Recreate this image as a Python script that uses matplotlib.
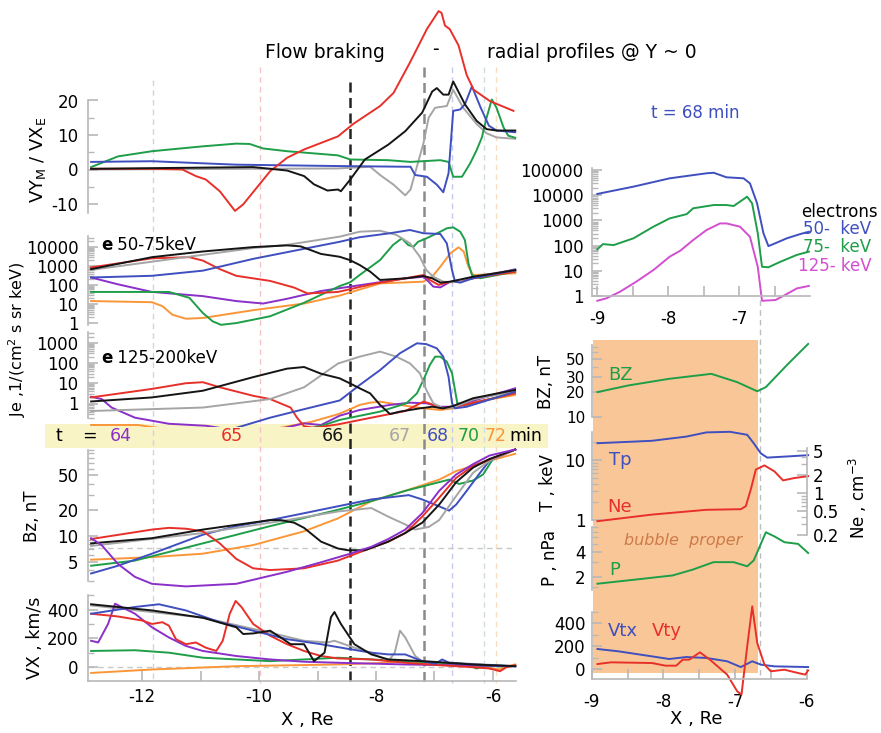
import numpy as np
import matplotlib
matplotlib.use('Agg')
import matplotlib.pyplot as plt
from matplotlib.ticker import FixedLocator, NullFormatter, FixedFormatter
from matplotlib.lines import Line2D
import matplotlib.transforms as mtrans

plt.rcParams['font.family'] = ['DejaVu Sans']
plt.rcParams['font.size'] = 12
plt.rcParams['mathtext.fontset'] = 'dejavusans'

# ------------------------------------------------------------------ data
# left column: radial profiles at several times (X in Re)
vy_red_x = [-12.87,-11.83,-11.31,-11.08,-10.91,-10.67,-10.41,-10.27,-10.04,-9.81,-9.52,-9.23,-8.65,-8.39,-7.93,-7.7,-7.42,-7.13,-6.93,-6.88,-6.82,-6.74,-6.59,-6.45,-6.33,-6.05,-5.65]
vy_red_y = [0.2,0.2,0,-1.9,-2.9,-6.3,-12,-10.1,-5.3,-0.5,3.4,5.8,9.6,13.2,18.4,22.2,31,40.7,45.9,45.4,41.7,40.7,36,27.4,23.1,19.8,17]
vy_blk_x = [-12.87,-10.1,-9.52,-9.23,-9.06,-8.83,-8.65,-8.6,-8.44,-8.19,-7.79,-7.5,-7.21,-7.04,-6.96,-6.85,-6.76,-6.68,-6.48,-6.28,-6.11,-5.94,-5.62]
vy_blk_y = [0.2,0.7,-0.3,-1.9,-4.3,-6.1,-5.8,-6.3,-2.9,2.9,7.2,11.1,16.5,22.6,23.6,21.7,21.7,25.5,18.9,14.1,11.7,11.3,11.3]
vy_gry_x = [-12.87,-8.65,-8.1,-7.93,-7.7,-7.5,-7.41,-7.27,-7.19,-7.1,-6.99,-6.79,-6.68,-6.51,-6.28,-6.11,-5.94,-5.62]
vy_gry_y = [0,0.3,0.8,-1.6,-4.4,-7.5,-5.8,2.7,7.5,15,17.9,18.4,23.1,17.9,13.2,10.5,9.3,8.9]
vy_blu_x = [-12.87,-11.83,-10.39,-8.65,-7.5,-7.41,-7.33,-7.13,-6.96,-6.85,-6.76,-6.68,-6.56,-6.48,-6.36,-6.21,-6.07,-5.94,-5.62]
vy_blu_y = [2.2,2.4,1.4,1.0,0.8,0.8,-1.6,-2.1,-4.4,-6.6,-1.1,17,17.4,18.9,24.1,17.9,12.7,11.3,10.8]
vy_grn_x = [-12.87,-12.41,-11.83,-10.97,-10.39,-10.16,-9.93,-9.52,-8.65,-8.44,-7.79,-7.41,-6.9,-6.76,-6.68,-6.53,-6.39,-6.28,-6.19,-6.11,-6.02,-5.94,-5.82,-5.74,-5.62]
vy_grn_y = [0.7,3.8,5.3,6.7,7.5,7.4,6.1,5.3,4.1,2.9,2.7,2.2,2.7,2.2,-2.1,-2.1,1.8,5.6,9.3,15,20.3,17.9,12.2,9.8,9.2]

# electron flux 50-75 keV (log10 of Je)
je50_blk_x = [-12.87,-11.83,-10.96,-10.1,-9.52,-9.29,-8.94,-8.62,-8.45,-8.28,-8.1,-7.93,-7.48,-7.19,-7.04,-6.9,-6.73,-6.34,-5.62]
je50_blk_lg = [2.84,3.47,3.77,4.0,4.09,4.04,3.64,3.49,3.32,3.06,2.71,2.27,2.36,2.48,2.36,2.13,2.18,2.44,2.79]
je50_gry_x = [-12.87,-10.1,-9.52,-8.62,-8.28,-7.93,-7.65,-7.42,-7.25,-7.14,-7.02,-6.85,-6.68,-6.34,-5.62]
je50_gry_lg = [2.8,3.95,4.12,4.55,4.81,4.86,4.64,4.2,3.49,2.79,2.44,2.18,2.15,2.44,2.79]
je50_blu_x = [-12.87,-11.83,-10.96,-10.1,-9.23,-8.62,-8.28,-7.76,-7.42,-7.19,-6.9,-6.79,-6.7,-6.65,-6.56,-6.34,-5.62]
je50_blu_lg = [2.4,2.49,2.76,3.38,3.91,4.28,4.52,4.73,4.9,4.73,4.69,4.2,2.79,2.18,2.13,2.36,2.79]
je50_red_x = [-12.87,-11.83,-11.19,-10.96,-10.67,-10.39,-9.81,-9.4,-9.17,-8.65,-8.08,-7.19,-7.08,-6.93,-6.79,-6.34,-5.62]
je50_red_lg = [2.93,3.41,3.47,3.29,2.84,2.49,2.22,1.87,1.56,1.64,2.04,2.53,2.27,2.01,2.13,2.36,2.71]
je50_pur_x = [-12.87,-12.41,-11.83,-10.96,-10.39,-9.93,-9.52,-8.94,-8.44,-7.48,-7.19,-7.1,-7.02,-6.9,-6.73,-6.34,-5.62]
je50_pur_lg = [2.4,2.04,1.64,1.42,1.16,1.03,1.28,1.69,1.92,2.36,2.44,2.18,1.92,1.88,2.18,2.36,2.83]
je50_grn_x = [-12.87,-11.54,-11.19,-10.96,-10.79,-10.65,-10.39,-9.81,-9.23,-8.62,-8.44,-8.28,-7.93,-7.71,-7.56,-7.45,-7.36,-7.28,-7.14,-6.9,-6.79,-6.68,-6.56,-6.48,-6.42,-6.36,-6.22,-5.62]
je50_grn_lg = [1.64,1.64,1.33,0.53,0.09,-0.09,0,0.36,1.07,1.95,2.15,2.53,3.32,4.11,4.46,4.11,4.02,4.28,4.46,4.81,4.99,5.04,4.81,4.37,3.15,2.53,2.36,2.71]
je50_org_x = [-12.87,-11.83,-11.65,-11.48,-11.25,-10.96,-10.1,-9.23,-8.62,-7.93,-7.19,-7.04,-6.9,-6.73,-6.59,-6.5,-6.42,-6.34,-5.62]
je50_org_lg = [1.16,1.1,0.89,0.44,0.23,0.27,0.68,1.03,1.45,2.09,2.18,2.44,2.97,3.67,3.99,3.76,2.97,2.53,2.62]

# electron flux 125-200 keV (log10 of Je)
je125_blk_x = [-12.87,-11.83,-10.96,-10.1,-9.52,-9.23,-8.94,-8.62,-8.45,-8.28,-8.1,-7.93,-7.76,-7.59,-7.25,-7.04,-6.85,-6.68,-6.34,-5.62]
je125_blk_lg = [0.1,0.3,0.63,1.3,1.72,1.8,1.47,1.24,1.0,0.75,0.5,-0.07,-0.52,-0.4,-0.24,-0.16,-0.24,-0.12,0.26,0.67]
je125_gry_x = [-12.87,-10.96,-9.81,-9.23,-8.65,-8.28,-7.93,-7.65,-7.42,-7.25,-7.14,-7.02,-6.85,-6.68,-6.34,-5.62]
je125_gry_lg = [-0.37,-0.2,0.22,0.8,1.97,2.31,2.56,2.31,1.98,1.49,0.67,0.01,-0.24,-0.2,0.2,0.6]
je125_blu_x = [-10.9,-10.39,-9.81,-9.23,-8.62,-8.28,-7.93,-7.59,-7.3,-7.14,-6.96,-6.85,-6.76,-6.7,-6.65,-6.45,-5.62]
je125_blu_lg = [-1.4,-1.2,-0.7,-0.28,0.15,0.91,1.65,2.48,2.97,2.93,2.72,2.31,1.32,0.01,-0.24,-0.16,0.58]
je125_red_x = [-12.87,-11.83,-11.25,-10.96,-10.67,-10.1,-9.81,-9.46,-9.35,-9.23,-9.06,-8.65,-8.08,-7.5,-7.19,-7.08,-6.9,-6.68,-5.62]
je125_red_lg = [0.3,0.72,1.0,1.05,0.8,0.38,0.22,-0.2,-0.7,-1.12,-1.2,-1.03,-0.7,-0.37,0.09,0.0,-0.24,-0.2,0.5]
je125_pur_x = [-12.87,-12.69,-12.52,-12.12,-11.54,-10.9,-10.0,-9.23,-8.94,-8.62,-8.28,-7.76,-7.42,-7.14,-6.9,-6.68,-5.62]
je125_pur_lg = [0.33,0.22,-0.2,-0.7,-1.0,-1.1,-1.5,-0.98,-1.06,-0.6,-0.32,-0.07,0.04,0.01,-0.16,-0.16,0.75]
je125_grn_x = [-9.5,-8.89,-8.62,-7.93,-7.48,-7.3,-7.19,-7.08,-6.99,-6.9,-6.79,-6.7,-6.65,-6.61,-6.45,-5.62]
je125_grn_lg = [-1.5,-1.06,-0.81,-0.4,0.01,0.5,1.16,1.9,2.31,2.31,2.06,1.49,0.67,0.01,-0.07,0.53]
je125_org_x = [-12.87,-12.07,-11.5,-10.0,-9.1,-8.65,-8.44,-8.28,-8.1,-7.93,-7.59,-7.19,-6.9,-6.68,-6.45,-5.62]
je125_org_lg = [-1.06,-1.06,-1.3,-1.4,-0.9,-0.53,-0.28,-0.07,0.04,0.09,-0.07,-0.24,-0.32,-0.24,0.01,0.42]

# Bz (log10 of nT)
bz_pur_x = [-12.87,-12.69,-12.41,-12.12,-11.83,-11.25,-10.39,-9.52,-8.94,-8.44,-8.08,-7.79,-7.5,-7.21,-6.92,-6.63,-6.34,-6.06,-5.62]
bz_pur_lg = [0.97,0.89,0.67,0.52,0.44,0.41,0.44,0.58,0.69,0.79,0.87,0.96,1.07,1.26,1.52,1.71,1.83,1.93,2.0]
bz_blk_x = [-12.87,-11.83,-10.96,-9.81,-9.63,-9.4,-9.23,-8.94,-8.65,-8.48,-8.19,-7.79,-7.5,-7.21,-6.92,-6.63,-6.34,-6.06,-5.62]
bz_blk_lg = [0.91,0.97,1.07,1.18,1.18,1.15,1.09,0.93,0.85,0.83,0.83,0.93,1.03,1.15,1.36,1.62,1.79,1.89,2.0]
bz_gry_x = [-12.87,-10.96,-9.52,-8.65,-8.08,-7.79,-7.5,-7.33,-7.1,-6.92,-6.63,-6.34,-6.06,-5.62]
bz_gry_lg = [0.88,1.03,1.18,1.28,1.32,1.22,1.13,1.07,1.1,1.18,1.46,1.73,1.87,2.0]
bz_red_x = [-12.87,-11.83,-11.54,-11.25,-10.96,-10.67,-10.39,-10.1,-9.81,-9.23,-8.65,-8.19,-7.79,-7.5,-7.21,-6.92,-6.63,-6.34,-5.62]
bz_red_lg = [0.96,1.07,1.09,1.08,1.05,0.91,0.73,0.62,0.6,0.62,0.71,0.83,0.93,1.03,1.22,1.44,1.67,1.81,2.0]
bz_blu_x = [-12.87,-12.41,-11.83,-10.96,-10.39,-9.81,-9.23,-8.44,-8.08,-7.44,-7.21,-6.92,-6.75,-6.63,-6.45,-6.22,-6.06,-5.62]
bz_blu_lg = [0.56,0.65,0.79,1.01,1.11,1.18,1.26,1.37,1.42,1.47,1.42,1.34,1.29,1.36,1.52,1.73,1.87,2.0]
bz_grn_x = [-12.87,-12.12,-10.96,-9.81,-8.65,-8.08,-7.5,-7.04,-6.75,-6.58,-6.34,-6.17,-6.0,-5.62]
bz_grn_lg = [0.65,0.71,0.91,1.11,1.3,1.4,1.52,1.6,1.65,1.6,1.64,1.71,1.89,2.0]
bz_org_x = [-12.87,-11.83,-10.96,-10.1,-9.23,-8.65,-8.08,-7.5,-6.92,-6.63,-6.34,-6.06,-5.62]
bz_org_lg = [0.72,0.75,0.79,0.89,1.05,1.2,1.4,1.52,1.65,1.75,1.81,1.87,1.95]
bz_ref = 7.2

# VX (km/s)
vx_blk_x = [-12.87,-11.83,-10.96,-10.39,-10.27,-10.1,-9.81,-9.63,-9.46,-9.23,-9.06,-8.88,-8.77,-8.71,-8.6,-8.37,-8.08,-7.79,-7.21,-6.34,-5.62]
vx_blk_y = [438,395,344,278,231,235,254,207,160,160,42,101,348,384,301,160,89,54,42,19,7]
vx_blu_x = [-12.87,-12.12,-11.71,-11.25,-10.67,-10.1,-9.52,-8.94,-8.44,-8.08,-7.79,-7.5,-7.21,-6.98,-6.87,-6.75,-6.34,-5.62]
vx_blu_y = [372,419,438,395,313,254,195,160,125,101,89,89,42,24,54,31,19,7]
vx_gry_x = [-12.87,-10.96,-9.81,-9.23,-8.83,-8.71,-8.37,-8.08,-7.79,-7.68,-7.59,-7.5,-7.33,-7.21,-5.62]
vx_gry_y = [430,345,240,184,172,184,136,101,42,101,254,207,78,42,7]
vx_red_x = [-12.87,-12.41,-12.0,-11.83,-11.65,-11.54,-11.42,-11.25,-11.08,-10.91,-10.73,-10.62,-10.5,-10.4,-10.3,-10.1,-9.81,-9.52,-9.23,-8.94,-8.65,-8.08,-7.5,-6.92,-6.34,-6.06,-5.88,-5.77,-5.62]
vx_red_y = [372,353,325,301,313,289,195,160,172,136,113,184,372,461,419,301,219,160,113,78,61,54,31,14,0,-9,-28,0,14]
vx_pur_x = [-12.87,-12.75,-12.58,-12.46,-12.35,-12.12,-11.83,-11.54,-11.25,-10.96,-10.39,-9.81,-9.23,-8.65,-7.5,-5.62]
vx_pur_y = [184,172,301,442,419,372,278,207,148,113,78,54,38,31,19,7]
vx_grn_x = [-12.87,-12.12,-11.54,-10.96,-10.39,-9.81,-9.23,-8.65,-8.08,-7.5,-6.92,-6.46,-6.28,-6.17,-5.62]
vx_grn_y = [113,118,101,66,54,42,54,66,54,42,31,19,-9,7,7]
vx_org_x = [-12.87,-11.83,-10.39,-8.65,-7.79,-7.5,-6.92,-6.34,-5.88,-5.77,-5.62]
vx_org_y = [-40,-16,7,19,31,47,19,7,-16,7,19]

# time markers (X of flow front at each time) and the time labels
mark_x = [-11.81, -9.98, -8.44, -7.18, -6.70, -6.15, -5.95]
time_labels = ['64', '65', '66', '67', '68', '70', '72']

# right column, t = 68 min
e50_x = [-9,-8.49,-7.98,-7.46,-7.36,-7.18,-6.94,-6.85,-6.75,-6.66,-6.59,-6.52,-6.33,-6.14,-6.02]
e50_lg = [4.05,4.34,4.67,4.87,4.89,4.71,4.67,4.47,3.68,2.49,1.98,2.06,2.29,2.46,2.55]
e75_x = [-9,-8.92,-8.77,-8.49,-8.21,-7.98,-7.74,-7.65,-7.36,-7.18,-7.08,-6.89,-6.82,-6.74,-6.68,-6.59,-6.42,-6.19,-6.02]
e75_lg = [1.85,2.06,2.02,2.29,2.75,3.08,3.25,3.48,3.61,3.61,3.57,3.94,3.68,2.49,1.16,1.14,1.36,1.63,1.76]
e125_x = [-9,-8.87,-8.68,-8.45,-8.21,-7.98,-7.83,-7.65,-7.46,-7.27,-7.18,-6.99,-6.85,-6.74,-6.68,-6.49,-6.33,-6.19,-6.02]
e125_lg = [-0.19,-0.09,0.17,0.57,1.03,1.56,1.8,2.22,2.62,2.88,2.88,2.75,2.35,1.16,-0.19,-0.16,0.08,0.3,0.4]

rbz_x = [-8.92,-8.49,-7.92,-7.33,-6.97,-6.69,-6.57,-6.26,-5.98]
rbz_lg = [1.30,1.38,1.46,1.52,1.42,1.31,1.36,1.64,1.88]
tp_x = [-8.92,-8.16,-7.68,-7.4,-7.07,-6.83,-6.74,-6.64,-6.55,-6.26,-5.98]
tp_lg = [1.28,1.32,1.39,1.46,1.47,1.42,1.28,1.11,1.04,1.06,1.08]
ne_x = [-8.92,-8.16,-7.4,-6.92,-6.85,-6.78,-6.71,-6.59,-6.45,-6.33,-6.17,-5.98]
ne_lg = [-0.47,-0.36,-0.28,-0.27,-0.22,0.06,0.39,0.46,0.36,0.21,0.25,0.28]
p_x = [-8.92,-8.39,-7.87,-7.59,-7.3,-7.02,-6.83,-6.74,-6.64,-6.57,-6.45,-6.31,-6.12,-5.98]
p_lg = [0.22,0.27,0.32,0.39,0.48,0.48,0.43,0.50,0.70,0.84,0.79,0.72,0.70,0.59]
vtx_x = [-8.92,-8.63,-8.16,-7.92,-7.68,-7.4,-7.11,-6.92,-6.76,-6.64,-6.45,-5.98]
vtx_y = [174,154,110,87,104,96,67,17,67,38,23,17]
vty_x = [-8.92,-8.73,-8.16,-7.97,-7.82,-7.73,-7.64,-7.49,-7.35,-7.11,-6.97,-6.91,-6.83,-6.76,-6.69,-6.59,-6.5,-6.31,-6.12,-6.02,-5.98]
vty_y = [43,58,52,29,29,81,81,145,81,-49,-194,-223,197,545,226,38,-20,-6,-35,-49,-12]
bubble_edge = -6.68

# ------------------------------------------------------------------ style
C_RED = '#e8302a'; C_BLK = '#151515'; C_GRY = '#a5a5a5'; C_BLU = '#3f4fbf'
C_GRN = '#1e9e48'; C_PUR = '#8b2fc9'; C_ORG = '#fb9638'; C_MAG = '#d24fd0'
TICKC = '#b8b8b8'
LW = 1.4

W, H = 881, 733
fig = plt.figure(figsize=(W / 100, H / 100), dpi=100)


def px_axes(x0, x1, ytop, ybot, z=1):
    ax = fig.add_axes([x0 / W, 1 - ybot / H, (x1 - x0) / W, (ybot - ytop) / H])
    ax.patch.set_alpha(0)
    ax.set_zorder(z)
    for s in ax.spines.values():
        s.set_visible(False)
    ax.set_xticks([])
    ax.set_yticks([])
    return ax


def ftext(x, y, s, **kw):
    kw.setdefault('ha', 'center')
    kw.setdefault('va', 'center')
    return fig.text(x / W, 1 - y / H, s, **kw)


def yaxis_style(ax, bounds, major, labels, minor, side='left', pad=7, size=12):
    sp = ax.spines[side]
    sp.set_visible(True)
    sp.set_color(TICKC)
    sp.set_linewidth(1.2)
    sp.set_bounds(*bounds)
    if side == 'right':
        ax.yaxis.tick_right()
    ax.yaxis.set_major_locator(FixedLocator(major))
    ax.yaxis.set_major_formatter(FixedFormatter(labels))
    ax.yaxis.set_minor_locator(FixedLocator(minor))
    ax.yaxis.set_minor_formatter(NullFormatter())
    ax.tick_params(axis='y', which='major', direction='in', length=7, width=1.2,
                   color=TICKC, pad=pad, labelsize=size)
    ax.tick_params(axis='y', which='minor', direction='in', length=4, width=1.0,
                   color=TICKC)


def xaxis_style(ax, major, labels, minor, pad=5):
    sp = ax.spines['bottom']
    sp.set_visible(True)
    sp.set_color(TICKC)
    sp.set_linewidth(1.2)
    ax.xaxis.set_major_locator(FixedLocator(major))
    ax.xaxis.set_major_formatter(FixedFormatter(labels))
    ax.xaxis.set_minor_locator(FixedLocator(minor))
    ax.xaxis.set_minor_formatter(NullFormatter())
    ax.tick_params(axis='x', which='both', direction='in', length=7, width=1.2,
                   color=TICKC, pad=pad, labelsize=12)


def log_minors(lo, hi):
    return [m * 10.0 ** d for d in range(lo, hi) for m in range(2, 10)]


def pl(ax, x, y, c, clip=False, lw=LW, log=False):
    yy = 10 ** np.asarray(y) if log else np.asarray(y)
    ax.plot(x, yy, color=c, lw=lw, clip_on=clip, solid_joinstyle='round')


# ------------------------------------------------------------------ left column
LX_L, LX_R = 88.3, 516.0


def lx(px):
    return -12 + (px - 142) / 58.5


LXLIM = (lx(LX_L), lx(LX_R))

# yellow time band
band = px_axes(45, 548, 424, 448, z=0)
band.patch.set_alpha(1)
band.patch.set_facecolor('#f8f4c5')

# VY panel
ax1 = px_axes(LX_L, LX_R, 5, 215)
ax1.set_xlim(*LXLIM)
ax1.set_ylim((169.5 - 215) / 3.45, (169.5 - 5) / 3.45)
yaxis_style(ax1, (-12.5, 20), [-10, 0, 10, 20], ['-10', '0', '10', '20'], [-5, 5, 15])
for x, y, c in [(vy_gry_x, vy_gry_y, C_GRY), (vy_grn_x, vy_grn_y, C_GRN), (vy_blu_x, vy_blu_y, C_BLU),
                (vy_red_x, vy_red_y, C_RED), (vy_blk_x, vy_blk_y, C_BLK)]:
    pl(ax1, x, y, c)

# Je 50-75 keV
ax2 = px_axes(LX_L, LX_R, 220, 330)
ax2.set_yscale('log')
ax2.set_xlim(*LXLIM)
ax2.set_ylim(10 ** ((323.1 - 330) / 19), 10 ** ((323.1 - 220) / 19))
yaxis_style(ax2, (0.8, 3.8e4), [1, 10, 100, 1000, 10000], ['1', '10', '100', '1000', '10000'],
            [v for v in log_minors(0, 5) if v < 3.8e4])
for x, y, c in [(je50_org_x, je50_org_lg, C_ORG), (je50_pur_x, je50_pur_lg, C_PUR),
                (je50_grn_x, je50_grn_lg, C_GRN), (je50_red_x, je50_red_lg, C_RED),
                (je50_gry_x, je50_gry_lg, C_GRY), (je50_blu_x, je50_blu_lg, C_BLU),
                (je50_blk_x, je50_blk_lg, C_BLK)]:
    pl(ax2, x, y, c, log=True)

# Je 125-200 keV
ax3 = px_axes(LX_L, LX_R, 330, 427)
ax3.set_yscale('log')
ax3.set_xlim(*LXLIM)
ax3.set_ylim(10 ** ((403.5 - 427) / 20.27), 10 ** ((403.5 - 330) / 20.27))
yaxis_style(ax3, (0.2, 3500), [1, 10, 100, 1000], ['1', '10', '100', '1000'],
            [v for v in log_minors(-1, 4) if 0.2 <= v < 3500])
for x, y, c in [(je125_org_x, je125_org_lg, C_ORG), (je125_pur_x, je125_pur_lg, C_PUR),
                (je125_grn_x, je125_grn_lg, C_GRN), (je125_red_x, je125_red_lg, C_RED),
                (je125_gry_x, je125_gry_lg, C_GRY), (je125_blu_x, je125_blu_lg, C_BLU),
                (je125_blk_x, je125_blk_lg, C_BLK)]:
    pl(ax3, x, y, c, clip=True, log=True)

# Bz
ax4 = px_axes(LX_L, LX_R, 447, 590)
ax4.set_yscale('log')
ax4.set_xlim(*LXLIM)
ax4.set_ylim(10 ** (1 + (535.6 - 590) / 86.1), 10 ** (1 + (535.6 - 447) / 86.1))
yaxis_style(ax4, (3, 100), [5, 10, 20, 50], ['5', '10', '20', '50'],
            [3, 4, 6, 7, 8, 9, 30, 40, 60, 70, 80, 90, 100])
ax4.axhline(bz_ref, color='#c8c8c8', lw=1.0, ls=(0, (4, 3)), zorder=0)
for x, y, c in [(bz_org_x, bz_org_lg, C_ORG), (bz_grn_x, bz_grn_lg, C_GRN), (bz_blu_x, bz_blu_lg, C_BLU),
                (bz_gry_x, bz_gry_lg, C_GRY), (bz_red_x, bz_red_lg, C_RED), (bz_blk_x, bz_blk_lg, C_BLK),
                (bz_pur_x, bz_pur_lg, C_PUR)]:
    pl(ax4, x, y, c, log=True)

# VX
ax5 = px_axes(LX_L, LX_R, 590, 680.7)
ax5.set_xlim(*LXLIM)
ax5.set_ylim((667.2 - 680.7) / 0.1437, (667.2 - 590) / 0.1437)
yaxis_style(ax5, ((667.2 - 680.7) / 0.1437, 500), [0, 200, 400], ['0', '200', '400'], [100, 300, 500])
xaxis_style(ax5, [-12, -10, -8, -6], ['-12', '-10', '-8', '-6'], [-11, -9, -7])
ax5.axhline(0, color='#c8c8c8', lw=1.0, ls=(0, (4, 3)), zorder=0)
for x, y, c in [(vx_org_x, vx_org_y, C_ORG), (vx_grn_x, vx_grn_y, C_GRN), (vx_gry_x, vx_gry_y, C_GRY),
                (vx_pur_x, vx_pur_y, C_PUR), (vx_red_x, vx_red_y, C_RED), (vx_blu_x, vx_blu_y, C_BLU),
                (vx_blk_x, vx_blk_y, C_BLK)]:
    pl(ax5, x, y, c)

# vertical time-marker lines across the left column
btr = mtrans.blended_transform_factory(ax5.transData, fig.transFigure)
mark_style = [('#d9cdea', 1.0, (4, 3), 80, 0.2), ('#f3c4c4', 1.0, (4, 3), 67, 0.2),
              ('#222222', 1.8, (4, 2.2), 82, 0.6), ('#8a8a8a', 1.8, (4, 2.2), 67, 0.6),
              ('#c5cbef', 1.0, (4, 3), 67, 0.2), ('#cfdde0', 1.0, (4, 3), 67, 0.2),
              ('#f7dcc0', 1.0, (4, 3), 67, 0.2)]
for xm, (c, lw, dash, ytop, z) in zip(mark_x, mark_style):
    ln = Line2D([xm, xm], [1 - ytop / H, 1 - 683 / H], transform=btr, color=c, lw=lw,
                dashes=dash, zorder=z)
    fig.add_artist(ln)

# left-column labels
ftext(38, 160, r'VY$_{\rm M}$ / VX$_{\rm E}$', rotation=90, fontsize=13)
ftext(17, 340, r'Je ,1/(cm$^2$ s sr keV)', rotation=90, fontsize=11.5)
ftext(32, 516, 'Bz, nT', rotation=90, fontsize=12)
ftext(35, 638, 'VX , km/s', rotation=90, fontsize=12.5)
ftext(307, 720, 'X , Re', fontsize=13)
ftext(101, 245, 'e', ha='left', fontweight='bold', fontsize=12)
ftext(112, 245, ' 50-75keV', ha='left', fontsize=12)
ftext(101, 358, 'e', ha='left', fontweight='bold', fontsize=12)
ftext(112, 358, ' 125-200keV', ha='left', fontsize=12)

# time band text
ftext(59, 436, 't', fontsize=12.5)
ftext(89, 436, '=', fontsize=12.5)
for lab, xpx, c in zip(time_labels, [121, 232, 333, 400, 438, 469, 496],
                       [C_PUR, C_RED, C_BLK, C_GRY, C_BLU, C_GRN, C_ORG]):
    ftext(xpx, 436, lab, color=c, fontsize=12.5)
ftext(526, 436, 'min', fontsize=12.5)

# title
ftext(265, 52, 'Flow braking', ha='left', fontsize=13.5)
ftext(435, 50, '-', fontsize=13.5)
ftext(487, 52, 'radial profiles @ Y ~ 0', ha='left', fontsize=13.5)

# ------------------------------------------------------------------ right top
RT_L, RT_R = 591.7, 810.0


def rtx(px):
    return -9 + (px - 597.3) / 71


axr = px_axes(RT_L, RT_R, 168, 296)
axr.set_yscale('log')
axr.set_xlim(rtx(RT_L), rtx(RT_R))
axr.set_ylim(1, 10 ** (5 + 2 / 25.2))
yaxis_style(axr, (1, 10 ** (5 + 2 / 25.2)), [1, 10, 100, 1000, 1e4, 1e5],
            ['1', '10', '100', '1000', '10000', '100000'], log_minors(0, 5), pad=6)
xaxis_style(axr, [-9, -8, -7, -6], ['-9', '-8', '-7', '-6'], [-8.5, -7.5, -6.5], pad=10)
pl(axr, e50_x, e50_lg, C_BLU, log=True)
pl(axr, e75_x, e75_lg, C_GRN, log=True)
pl(axr, e125_x, e125_lg, C_MAG, log=True)
ftext(695, 113, 't = 68 min', color=C_BLU, fontsize=12)
ftext(839, 212, 'electrons', fontsize=12)
ftext(837, 229, '50-  keV', color=C_BLU, fontsize=12)
ftext(837, 247, '75-  keV', color=C_GRN, fontsize=12)
ftext(835, 266, '125- keV', color=C_MAG, fontsize=12)

# ------------------------------------------------------------------ right bottom
RB_L, RB_R = 591.7, 806.7
RXLIM = (-9, -6)

shade = px_axes(RB_L, RB_R, 340, 673.3, z=0)
shade.set_xlim(*RXLIM)
shade.axvspan(-8.98, bubble_edge, color='#f9c797', lw=0)

# dashed boundary line
btr2 = mtrans.blended_transform_factory(shade.transData, fig.transFigure)
fig.add_artist(Line2D([bubble_edge + 0.03] * 2, [1 - 300 / H, 1 - 679 / H], transform=btr2,
                      color='#bdbdbd', lw=1.0, dashes=(4, 3), zorder=0.5))

# BZ
ab = px_axes(RB_L, RB_R, 345, 417)
ab.set_yscale('log')
ab.set_xlim(*RXLIM)
ab.set_ylim(10, 10 ** (1 + 72 / 83))
yaxis_style(ab, (10, 10 ** (1 + 72 / 83)), [10, 20, 30, 50], ['10', '20', '30', '50'], [40, 60, 70],
            pad=4.5, size=11)
pl(ab, rbz_x, rbz_lg, C_GRN, log=True)

# T
at = px_axes(RB_L, RB_R, 432, 520)
at.set_yscale('log')
at.set_xlim(*RXLIM)
at.set_ylim(1, 10 ** (88 / 60))
yaxis_style(at, (1, 10 ** (88 / 60)), [1, 10], ['1', '10'], [2, 3, 4, 5, 6, 7, 8, 9, 20], pad=4.5)
pl(at, tp_x, tp_lg, C_BLU, log=True)

# Ne (right axis)
an = px_axes(RB_L, RB_R, 448, 536)
an.set_yscale('log')
an.set_xlim(*RXLIM)
an.set_ylim(10 ** ((493 - 536) / 60), 10 ** ((493 - 448) / 60))
yaxis_style(an, (0.2, 10 ** ((493 - 448) / 60)), [0.2, 0.5, 1, 2, 5],
            ['0.2', '0.5', '1', '2', '5'], [0.3, 0.4, 0.6, 0.7, 0.8, 0.9, 3, 4], side='right', pad=4.5)
pl(an, ne_x, ne_lg, C_RED, log=True)

# P
ap = px_axes(RB_L, RB_R, 527, 590)
ap.set_yscale('log')
ap.set_xlim(*RXLIM)
ap.set_ylim(10 ** (np.log10(2) - 13 / 83), 10 ** (np.log10(2) + 50 / 83))
yaxis_style(ap, ap.get_ylim(), [2, 4], ['2', '4'], [1.5, 3, 5, 6, 7, 8], pad=4.5)
pl(ap, p_x, p_lg, C_GRN, log=True)

# Vtx / Vty
av = px_axes(RB_L, RB_R, 610, 679.3)
av.set_xlim(*RXLIM)
av.set_ylim((669 - 679.3) / 0.115, (669 - 610) / 0.115)
yaxis_style(av, ((669 - 679.3) / 0.115, 500), [0, 200, 400], ['0', '200', '400'], [100, 300, 500],
            pad=4.5)
xaxis_style(av, [-9, -8, -7, -6], ['-9', '-8', '-7', '-6'], [-8.5, -7.5, -6.5], pad=10)
pl(av, vtx_x, vtx_y, C_BLU)
pl(av, vty_x, vty_y, C_RED)

# right labels
ftext(620, 375, 'BZ', color=C_GRN, fontsize=13)
ftext(620, 460, 'Tp', color=C_BLU, fontsize=13)
ftext(620, 507, 'Ne', color=C_RED, fontsize=13)
ftext(615, 570, 'P', color=C_GRN, fontsize=13)
ftext(623, 631, 'Vtx', color=C_BLU, fontsize=13)
ftext(667, 631, 'Vty', color=C_RED, fontsize=13)
ftext(683, 541, 'bubble  proper', color='#cd7a48', style='italic', fontsize=11.5)
ftext(546, 382, 'BZ, nT', rotation=90, fontsize=12)
ftext(548, 483, 'T , keV', rotation=90, fontsize=12)
ftext(550, 558, 'P , nPa', rotation=90, fontsize=12)
ftext(858, 498, r'Ne , cm$^{-3}$', rotation=90, fontsize=12)
ftext(696, 719, 'X , Re', fontsize=13)

fig.savefig('out.png', dpi=100)
